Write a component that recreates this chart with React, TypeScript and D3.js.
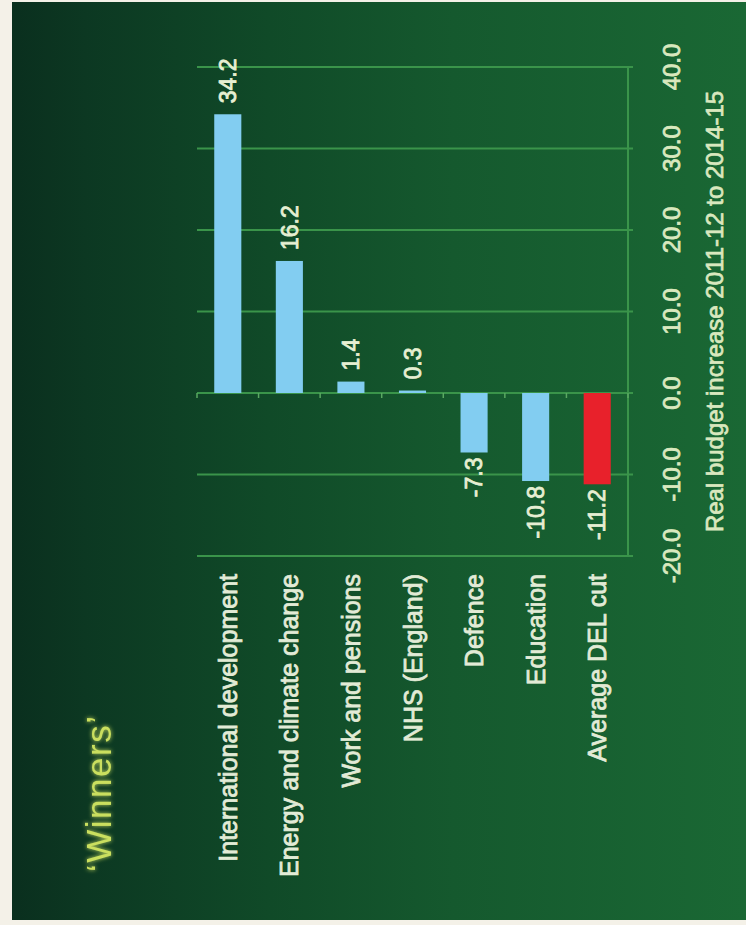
import React from "react";
import * as d3 from "d3";

const categories = [
  "International development",
  "Energy and climate change",
  "Work and pensions",
  "NHS (England)",
  "Defence",
  "Education",
  "Average DEL cut",
];
const values = [34.2, 16.2, 1.4, 0.3, -7.3, -10.8, -11.2];
const highlight = [false, false, false, false, false, false, true];
const ticks = [-20, -10, 0, 10, 20, 30, 40];
const title = "\u2018Winners\u2019";
const axisTitle = "Real budget increase 2011-12 to 2014-15";

const W = 746;
const H = 925;
const FONT = "'Liberation Sans', Arial, sans-serif";

export default function App() {
  const x = d3
    .scaleBand<string>()
    .domain(categories)
    .range([197, 628])
    .paddingInner(0.56)
    .paddingOuter(0.28);
  const y = d3.scaleLinear().domain([-20, 40]).range([556, 67]);
  const bw = x.bandwidth();
  const y0 = y(0);
  const left = x.range()[0];
  const right = x.range()[1];
  const bStep = (right - left) / categories.length;

  const thick = (color: string, w = 0.7) => ({
    stroke: color,
    strokeWidth: w,
    paintOrder: "stroke" as const,
  });

  return (
    <svg
      width={W}
      height={H}
      style={{ position: "absolute", left: 0, top: 0, display: "block" }}
    >
      <defs>
        <linearGradient id="bg" x1="0" y1="0" x2="1" y2="0">
          <stop offset="0" stopColor="#0a2f1e" />
          <stop offset="0.1" stopColor="#0c3822" />
          <stop offset="0.35" stopColor="#104a28" />
          <stop offset="0.6" stopColor="#15592e" />
          <stop offset="1" stopColor="#1a6834" />
        </linearGradient>
        <filter id="glow" x="-20%" y="-20%" width="140%" height="140%">
          <feGaussianBlur stdDeviation="2" result="b" />
          <feMerge>
            <feMergeNode in="b" />
            <feMergeNode in="SourceGraphic" />
          </feMerge>
        </filter>
      </defs>
      <rect x={0} y={0} width={W} height={H} fill="#f4f1e8" />
      <rect x={12} y={2} width={734} height={918} fill="url(#bg)" />

      {/* gridlines */}
      {ticks.map((t) => (
        <line
          key={"g" + t}
          x1={left}
          x2={right + 5}
          y1={y(t)}
          y2={y(t)}
          stroke="#3a944a"
          strokeWidth={2}
        />
      ))}
      {/* value axis line */}
      <line x1={right} x2={right} y1={y(40)} y2={y(-20)} stroke="#3a944a" strokeWidth={2} />
      {/* category ticks on zero line */}
      {d3.range(categories.length + 1).map((i) => (
        <line
          key={"ct" + i}
          x1={left + i * bStep}
          x2={left + i * bStep}
          y1={y0}
          y2={y0 + 5}
          stroke="#5aa862"
          strokeWidth={1.5}
        />
      ))}

      {/* bars */}
      {categories.map((c, i) => {
        const v = values[i];
        const top = Math.min(y(v), y0);
        const h = Math.abs(y(v) - y0);
        return (
          <rect
            key={"b" + c}
            x={x(c)}
            y={top}
            width={bw}
            height={Math.max(h, 2)}
            fill={highlight[i] ? "#e8212b" : "#82cdf1"}
          />
        );
      })}

      {/* value labels */}
      {categories.map((c, i) => {
        const v = values[i];
        const cx = (x(c) as number) + bw / 2;
        const pos = v >= 0;
        const ay = pos ? y(v) - 11 : y(v) + 5;
        return (
          <text
            key={"v" + c}
            transform={`translate(${cx},${ay}) rotate(-90)`}
            textAnchor={pos ? "start" : "end"}
            dy="0.36em"
            fontFamily={FONT}
            fontSize={23}
            fill="#e6efd2"
            {...thick("#e6efd2", 0.8)}
          >
            {v.toFixed(1)}
          </text>
        );
      })}

      {/* category labels */}
      {categories.map((c) => {
        const cx = (x(c) as number) + bw / 2;
        return (
          <text
            key={"c" + c}
            transform={`translate(${cx},574) rotate(-90)`}
            textAnchor="end"
            dy="0.36em"
            fontFamily={FONT}
            fontSize={25}
            fill="#e2ebd6"
            {...thick("#e2ebd6", 0.8)}
          >
            {c}
          </text>
        );
      })}

      {/* tick labels */}
      {ticks.map((t) => (
        <text
          key={"t" + t}
          transform={`translate(680,${y(t)}) rotate(-90)`}
          textAnchor="middle"
          fontFamily={FONT}
          fontSize={24}
          fill="#d9e8be"
          {...thick("#d9e8be", 0.8)}
        >
          {t.toFixed(1)}
        </text>
      ))}

      {/* axis title */}
      <text
        transform={`translate(723,${(y(40) + y(-20)) / 2}) rotate(-90)`}
        textAnchor="middle"
        fontFamily={FONT}
        fontSize={24}
        fill="#d9e8be"
        {...thick("#d9e8be", 0.7)}
      >
        {axisTitle}
      </text>

      {/* title */}
      <text
        transform={`translate(111,872) rotate(-90)`}
        textAnchor="start"
        fontFamily={FONT}
        fontSize={35}
        letterSpacing={1.5}
        fill="#cadf5e"
        filter="url(#glow)"
      >
        {title}
      </text>
    </svg>
  );
}
